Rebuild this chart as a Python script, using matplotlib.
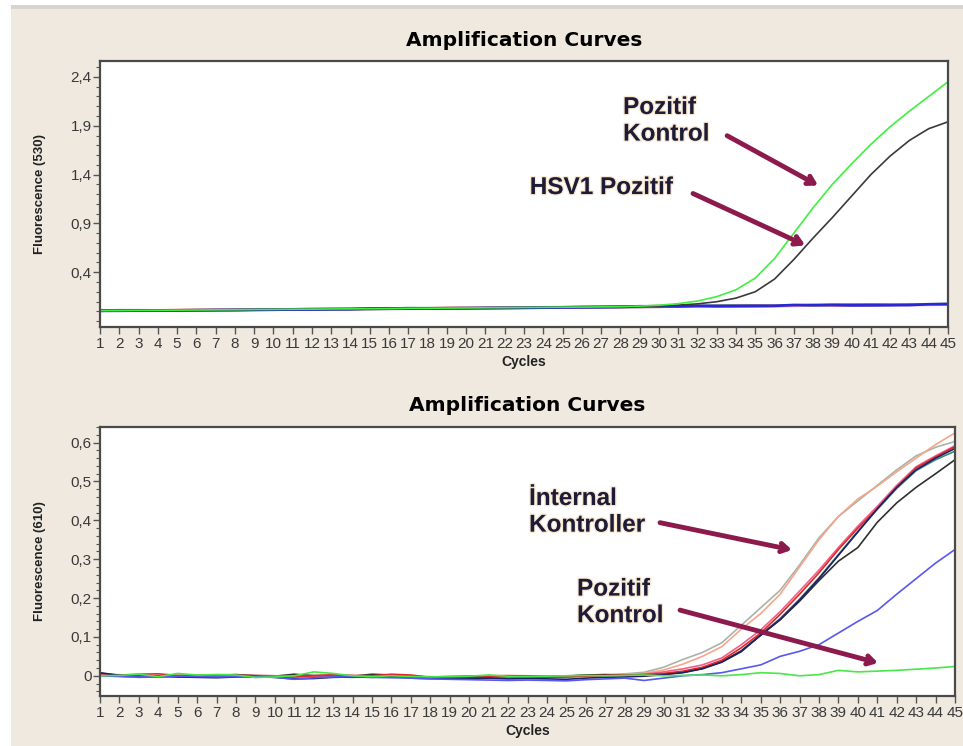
import matplotlib
matplotlib.use("Agg")
import matplotlib.pyplot as plt
import matplotlib.patheffects as pe
from matplotlib.patches import Rectangle
from matplotlib.ticker import MultipleLocator

plt.rcParams['font.family'] = ['Liberation Sans', 'DejaVu Sans']

cycles = list(range(1, 46))

# --- top panel (530) ---
top_flat = {
    '#8a50c8': [0.005, 0.006, 0.007, 0.008, 0.009, 0.011, 0.012, 0.014, 0.015, 0.017,
                0.018, 0.020, 0.021, 0.023, 0.024, 0.026, 0.027, 0.029, 0.030, 0.032,
                0.033, 0.035, 0.036, 0.038, 0.039, 0.041, 0.042, 0.044, 0.045, 0.047,
                0.048, 0.050, 0.051, 0.053, 0.054, 0.056, 0.057, 0.059, 0.063, 0.064,
                0.066, 0.067, 0.069, 0.070, 0.072],
    '#d84040': [0.010, 0.008, 0.006, 0.007, 0.010, 0.012, 0.013, 0.015, 0.017, 0.018,
                0.020, 0.021, 0.023, 0.024, 0.026, 0.027, 0.029, 0.030, 0.032, 0.033,
                0.035, 0.039, 0.038, 0.040, 0.041, 0.043, 0.047, 0.046, 0.048, 0.053,
                0.051, 0.052, 0.053, 0.055, 0.059, 0.058, 0.059, 0.061, 0.062, 0.064,
                0.065, 0.067, 0.068, 0.070, 0.071],
    '#3a9a80': [0.006, 0.010, 0.010, 0.009, 0.009, 0.011, 0.013, 0.014, 0.018, 0.019,
                0.019, 0.021, 0.022, 0.024, 0.025, 0.027, 0.032, 0.031, 0.031, 0.033,
                0.034, 0.036, 0.037, 0.039, 0.040, 0.044, 0.043, 0.045, 0.047, 0.049,
                0.050, 0.051, 0.056, 0.057, 0.056, 0.057, 0.059, 0.060, 0.061, 0.065,
                0.066, 0.067, 0.071, 0.070, 0.074],
    '#f4a898': [0.007, 0.007, 0.008, 0.009, 0.013, 0.013, 0.014, 0.015, 0.016, 0.017,
                0.019, 0.024, 0.025, 0.026, 0.027, 0.026, 0.027, 0.029, 0.034, 0.035,
                0.035, 0.036, 0.037, 0.038, 0.039, 0.041, 0.042, 0.043, 0.045, 0.046,
                0.053, 0.050, 0.051, 0.053, 0.054, 0.058, 0.057, 0.062, 0.060, 0.061,
                0.062, 0.067, 0.065, 0.066, 0.068],
    '#2828d8': [0.006, 0.006, 0.007, 0.008, 0.009, 0.010, 0.012, 0.013, 0.015, 0.016,
                0.018, 0.019, 0.021, 0.022, 0.029, 0.030, 0.028, 0.029, 0.030, 0.031,
                0.033, 0.034, 0.036, 0.037, 0.039, 0.040, 0.042, 0.045, 0.051, 0.050,
                0.051, 0.056, 0.053, 0.054, 0.055, 0.056, 0.064, 0.063, 0.065, 0.061,
                0.062, 0.063, 0.064, 0.072, 0.073],
}
top_green = [0.006, 0.007, 0.009, 0.010, 0.012, 0.013, 0.015, 0.016, 0.018, 0.019,
             0.021, 0.022, 0.024, 0.025, 0.027, 0.028, 0.030, 0.031, 0.033, 0.034,
             0.036, 0.037, 0.039, 0.040, 0.042, 0.043, 0.045, 0.047, 0.053, 0.062,
             0.078, 0.105, 0.15, 0.22, 0.34, 0.54, 0.80, 1.06, 1.30, 1.51,
             1.71, 1.89, 2.05, 2.20, 2.35]
top_black = [0.006, 0.007, 0.009, 0.010, 0.012, 0.013, 0.015, 0.016, 0.018, 0.019,
             0.021, 0.022, 0.024, 0.025, 0.027, 0.028, 0.030, 0.031, 0.033, 0.034,
             0.036, 0.037, 0.039, 0.040, 0.042, 0.043, 0.045, 0.047, 0.050, 0.055,
             0.063, 0.076, 0.098, 0.135, 0.20, 0.33, 0.53, 0.75, 0.96, 1.18,
             1.40, 1.59, 1.75, 1.87, 1.94]
top_yticks = [0.4, 0.9, 1.4, 1.9, 2.4]
top_ylabels = ['0,4', '0,9', '1,4', '1,9', '2,4']

# --- bottom panel (610) ---
bot_curves = [
    ('#a8b4a8', [0.004, 0.001, 0.000, -0.002, 0.001, 0.002, 0.003, 0.003, 0.001, 0.000,
                 0.000, 0.002, 0.001, -0.001, 0.000, 0.001, -0.002, -0.003, -0.003, -0.002,
                 -0.001, 0.000, 0.000, -0.001, 0.000, 0.002, 0.003, 0.005, 0.009, 0.022,
                 0.042, 0.060, 0.085, 0.130, 0.175, 0.220, 0.285, 0.355, 0.410, 0.450,
                 0.490, 0.530, 0.566, 0.588, 0.603]),
    ('#f6a68c', [0.002, 0.003, -0.002, -0.004, -0.001, 0.000, 0.001, 0.002, 0.000, -0.001,
                 0.000, 0.001, 0.002, 0.000, -0.001, 0.000, -0.001, -0.002, -0.003, -0.002,
                 0.000, 0.001, 0.000, -0.001, -0.002, 0.000, 0.002, 0.003, 0.006, 0.015,
                 0.030, 0.050, 0.075, 0.120, 0.160, 0.210, 0.280, 0.350, 0.410, 0.455,
                 0.488, 0.525, 0.560, 0.595, 0.625]),
    ('#3a8a78', [0.002, -0.001, -0.004, -0.003, 0.000, -0.002, 0.000, 0.001, -0.004, -0.003,
                 -0.002, -0.002, -0.003, -0.004, -0.003, -0.001, -0.003, -0.004, -0.005, -0.004,
                 -0.003, -0.002, -0.003, -0.003, -0.002, -0.001, 0.000, 0.001, 0.001, 0.004,
                 0.009, 0.019, 0.037, 0.064, 0.106, 0.147, 0.197, 0.252, 0.312, 0.372,
                 0.428, 0.482, 0.528, 0.556, 0.578]),
    ('#303030', [0.003, 0.000, -0.001, 0.000, -0.002, -0.002, 0.001, 0.003, 0.000, -0.001,
                 0.004, 0.000, 0.001, -0.001, 0.004, 0.002, -0.002, -0.003, -0.002, -0.001,
                 0.000, 0.000, -0.001, -0.002, -0.001, 0.002, 0.003, 0.001, 0.002, 0.004,
                 0.009, 0.019, 0.036, 0.064, 0.104, 0.144, 0.192, 0.245, 0.295, 0.330,
                 0.395, 0.445, 0.485, 0.520, 0.556]),
    ('#f06088', [0.004, 0.000, -0.003, -0.002, 0.000, 0.002, 0.001, 0.000, 0.001, 0.000,
                 -0.002, -0.001, 0.000, 0.000, -0.002, -0.001, -0.006, -0.008, -0.007, -0.006,
                 -0.004, -0.003, -0.002, -0.004, -0.003, -0.001, 0.000, 0.001, 0.004, 0.010,
                 0.018, 0.028, 0.046, 0.080, 0.118, 0.165, 0.218, 0.272, 0.330, 0.385,
                 0.436, 0.490, 0.538, 0.566, 0.592]),
    ('#e02828', [0.006, 0.002, 0.004, 0.005, 0.001, 0.000, 0.002, 0.001, 0.000, -0.002,
                 -0.003, 0.000, 0.002, 0.001, 0.000, 0.004, 0.002, -0.004, -0.006, -0.005,
                 -0.003, -0.002, -0.003, -0.004, -0.003, 0.000, 0.001, 0.002, 0.003, 0.006,
                 0.012, 0.022, 0.040, 0.072, 0.110, 0.158, 0.210, 0.265, 0.325, 0.380,
                 0.430, 0.485, 0.535, 0.563, 0.590]),
    ('#20206a', [0.008, 0.001, -0.002, -0.001, -0.003, -0.004, -0.005, -0.003, -0.002, -0.004,
                 -0.008, -0.007, -0.004, -0.003, -0.004, -0.002, -0.004, -0.006, -0.007, -0.007,
                 -0.006, -0.008, -0.007, -0.008, -0.009, -0.006, -0.004, -0.003, -0.001, 0.003,
                 0.008, 0.018, 0.035, 0.062, 0.105, 0.145, 0.195, 0.250, 0.310, 0.370,
                 0.430, 0.485, 0.530, 0.560, 0.585]),
    ('#5858f0', [0.000, -0.002, -0.003, -0.002, -0.001, -0.002, -0.003, -0.002, -0.003, -0.004,
                 -0.009, -0.005, -0.003, -0.002, -0.004, -0.005, -0.006, -0.008, -0.009, -0.010,
                 -0.011, -0.012, -0.011, -0.012, -0.013, -0.010, -0.008, -0.006, -0.012, -0.006,
                 0.000, 0.003, 0.008, 0.018, 0.028, 0.050, 0.063, 0.080, 0.110, 0.140,
                 0.168, 0.210, 0.250, 0.290, 0.325]),
    ('#48e848', [0.000, 0.001, 0.004, -0.002, 0.006, 0.002, 0.003, 0.002, -0.004, -0.003,
                 0.000, 0.010, 0.006, 0.000, -0.002, 0.000, -0.002, -0.003, -0.002, -0.001,
                 0.002, -0.001, -0.002, -0.001, 0.000, 0.001, 0.000, 0.001, 0.002, 0.000,
                 0.001, 0.002, 0.000, 0.003, 0.008, 0.006, 0.000, 0.003, 0.014, 0.010,
                 0.012, 0.014, 0.017, 0.020, 0.024]),
]
bot_yticks = [0.0, 0.1, 0.2, 0.3, 0.4, 0.5, 0.6]
bot_ylabels = ['0', '0,1', '0,2', '0,3', '0,4', '0,5', '0,6']

arrow_col = '#8c1a4c'
text_col = '#1c1c38'
glow = [pe.withStroke(linewidth=2, foreground='#f0c080', alpha=0.35)]

fig = plt.figure(figsize=(9.63, 7.46), dpi=100, facecolor='white')
fig.patches.append(Rectangle((11 / 963, 0), 1, 737 / 746, transform=fig.transFigure,
                             facecolor='#efe9e0', edgecolor='none', zorder=-10))
fig.patches.append(Rectangle((11 / 963, 737 / 746), 1, 4 / 746, transform=fig.transFigure,
                             facecolor='#d8d4ce', edgecolor='none', zorder=-10))

ax1 = fig.add_axes([100 / 963, 419 / 746, 848 / 963, 266 / 746])
ax2 = fig.add_axes([100 / 963, 50 / 746, 855 / 963, 269.3 / 746])


def style(ax, yticks, ylabels, minor, ylabel):
    ax.set_facecolor('white')
    ax.set_xlim(1, 45)
    ax.set_xticks(cycles)
    ax.set_xticklabels([str(c) for c in cycles], fontsize=11, color='#3a3a3a')
    ax.set_yticks(yticks)
    ax.set_yticklabels(ylabels, fontsize=11, color='#3a3a3a')
    ax.yaxis.set_minor_locator(MultipleLocator(minor))
    ax.tick_params(axis='x', length=5, width=1, color='#555555', pad=2)
    ax.tick_params(axis='y', which='major', length=5, width=1, color='#555555', pad=1)
    ax.tick_params(axis='y', which='minor', length=3, width=0.8, color='#555555')
    for s in ax.spines.values():
        s.set_color('#4a4a4a')
        s.set_linewidth(1.6)
    ax.set_ylabel(ylabel, fontsize=9.5, fontweight='bold', color='#222222', labelpad=18)
    ax.set_xlabel('Cycles', fontsize=10, fontweight='bold', color='#222222', labelpad=3)


# top panel
for col, vals in top_flat.items():
    ax1.plot(cycles, vals, color=col, lw=2)
ax1.plot(cycles, top_black, color='#3a3a3a', lw=1.2)
ax1.plot(cycles, top_green, color='#40f040', lw=1.2)
ax1.set_ylim(-0.161, 2.563)
style(ax1, top_yticks, top_ylabels, 0.1, 'Fluorescence (530)')
ax1.set_title('Amplification Curves', fontsize=14.5, fontweight='bold',
              family='DejaVu Sans', pad=11)

ax1.text(28.14, 1.951, 'Pozitif\nKontrol', fontsize=17.5, fontweight='bold', color=text_col,
         ha='left', va='center', linespacing=1.2, path_effects=glow)
ax1.text(23.3, 1.267, 'HSV1 Pozitif', fontsize=17.5, fontweight='bold', color=text_col,
         ha='left', va='center', path_effects=glow)
arrow = dict(arrowstyle='->,head_length=0.5,head_width=0.3', color=arrow_col, lw=3.5,
             shrinkA=0, shrinkB=0)
ax1.annotate('', xy=(38.26, 1.288), xytext=(33.54, 1.798), arrowprops=arrow)
ax1.annotate('', xy=(37.59, 0.676), xytext=(31.77, 1.206), arrowprops=arrow)

# bottom panel
for col, vals in bot_curves:
    ax2.plot(cycles, vals, color=col, lw=1.2)
ax2.set_ylim(-0.052, 0.641)
style(ax2, bot_yticks, bot_ylabels, 0.02, 'Fluorescence (610)')
ax2.set_title('Amplification Curves', fontsize=14.5, fontweight='bold',
              family='DejaVu Sans', pad=11)

ax2.text(23.08, 0.422, 'İnternal\nKontroller', fontsize=17.5, fontweight='bold', color=text_col,
         ha='left', va='center', linespacing=1.2, path_effects=glow)
ax2.text(25.55, 0.189, 'Pozitif\nKontrol', fontsize=17.5, fontweight='bold', color=text_col,
         ha='left', va='center', linespacing=1.2, path_effects=glow)
ax2.annotate('', xy=(36.61, 0.324), xytext=(29.82, 0.394), arrowprops=arrow)
ax2.annotate('', xy=(41.04, 0.033), xytext=(30.85, 0.169), arrowprops=arrow)

fig.savefig('out.png', dpi=100, facecolor=fig.get_facecolor())
